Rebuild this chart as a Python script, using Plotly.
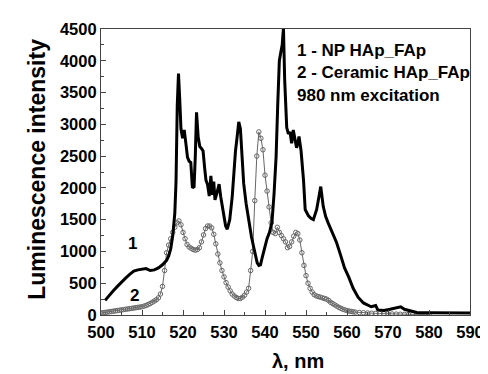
import plotly.graph_objects as go

# Curve 1: NP HAp_FAp (black line)
np_x = [501, 502, 503, 504, 505, 506, 507, 508, 509, 510, 511, 512, 513, 514, 515, 516, 516.5, 517, 517.5,
        518, 518.3, 518.6, 518.9, 519.2, 519.5, 519.9, 520.3, 520.7, 521.1, 521.5, 521.9, 522.3, 522.7,
        523.0, 523.3, 523.7, 524.1, 524.5, 524.9, 525.3, 525.6, 526.0, 526.4, 526.8, 527.2, 527.5, 527.8,
        528.2, 528.8, 529.2, 529.8, 530.4, 530.8, 531.4, 532.0, 532.4, 532.8, 533.2, 533.6, 534.0, 534.4,
        534.8, 535.4, 536.1, 536.7, 537.3, 537.7, 538.1, 538.5, 538.9, 539.3, 539.7, 540.1, 540.5, 541.1,
        541.7, 542.2, 542.7, 543.1, 543.5, 543.9, 544.2, 544.5, 544.8, 545.3, 545.7, 546.1, 546.5, 546.9,
        547.3, 547.7, 548.0, 548.3, 548.8, 549.4, 549.8, 550.6, 551.2, 551.8, 552.6, 553.2, 553.6, 554.2,
        554.8, 555.4, 556.4, 557.4, 558.4, 559.4, 560.4, 561.5, 562.7, 564, 565.9, 567.0, 567.5, 569,
        570.5, 572, 573.1, 574, 575.5, 577, 580, 583, 586, 590]
np_y = [230, 310, 380, 450, 520, 580, 640, 690, 710, 720, 730, 700, 710, 740, 790, 860, 930, 1040, 1250,
        1600, 2100, 3300, 3800, 3400, 2930, 2780, 2910, 2700, 2480, 2420, 2400, 2000, 2020,
        2500, 3190, 2800, 2650, 2620, 2580, 2300, 2120, 2050, 1870, 2190, 1890, 2100, 1810,
        1900, 2060, 1860, 1600, 1400, 1350, 1500, 1860, 2250, 2580, 2800, 3040, 2930, 2500,
        2070, 1750, 1450, 1230, 1050, 920, 820, 780, 790, 900, 1000, 1100, 1200, 1300,
        1460, 1900, 2480, 3300, 4000, 4150, 4250, 4520, 3700, 2950, 2850, 2880, 2700, 2910,
        2750, 2630, 2700, 2810, 2580, 2120, 1660, 1560, 1520, 1500, 1660, 1850, 2020, 1710,
        1550, 1450, 1300, 1150, 950, 740, 600, 420, 280, 190, 130, 150, 80, 70,
        90, 110, 130, 90, 60, 40, 35, 30, 28, 30]

# Curve 2: Ceramic HAp_FAp (grey open circles)
cer_x = [500, 500.5, 501, 501.5, 502, 502.5, 503, 503.5, 504, 504.5, 505, 505.5, 506, 506.5, 507, 507.5,
         508, 508.5, 509, 509.5, 510, 510.5, 511, 511.5, 512, 512.5, 513, 513.5, 514, 514.5, 515, 515.5,
         516, 516.5, 517, 517.5, 518, 518.5, 519, 519.5, 520, 520.5, 521, 521.5, 522, 522.5, 523, 523.5,
         524, 524.5, 525, 525.5, 526, 526.5, 527, 527.5, 528, 528.5, 529, 529.5, 530, 530.5, 531, 531.5,
         532, 532.5, 533, 533.5, 534, 534.5, 535, 535.5, 536, 536.5, 537, 537.5, 538, 538.5, 539, 539.5,
         540, 540.5, 541, 541.5, 542, 542.5, 543, 543.5, 544, 544.5, 545, 545.5, 546, 546.5, 547, 547.5,
         548, 548.5, 549, 549.5, 550, 550.5, 551, 551.5, 552, 552.5, 553, 553.5, 554, 554.5, 555, 555.5,
         556, 556.5, 557, 557.5, 558, 558.5, 559, 559.5, 560, 560.5, 561, 561.5, 562, 563, 564, 565,
         566, 567, 568, 569, 570, 571, 572, 573, 574, 575, 576, 577, 578, 579, 580]
cer_y = [30, 35, 40, 45, 50, 55, 60, 65, 70, 75, 80, 85, 90, 95, 100, 105,
         110, 115, 120, 125, 130, 140, 150, 165, 180, 200, 220, 240, 270, 330, 450, 700,
         980, 1100, 1200, 1300, 1380, 1450, 1480, 1420, 1300, 1200, 1110, 1070, 1050, 1030, 1020, 1030,
         1060, 1150, 1260, 1360, 1400, 1400, 1370, 1270, 1120, 960, 820, 700, 600, 510, 440, 380,
         330, 300, 275, 260, 260, 280, 310, 360, 420, 700, 1000, 1800, 2500, 2880, 2780, 2600,
         2200, 1950, 1700, 1450, 1300, 1280, 1380, 1300, 1250, 1200, 1150, 1060, 1080, 1150, 1240, 1300,
         1280, 1180, 980, 780, 620, 500, 420, 360, 320, 300, 290, 280, 270, 260, 250, 230,
         200, 180, 160, 140, 120, 105, 90, 80, 70, 62, 56, 50, 46, 40, 36, 32,
         28, 25, 22, 20, 18, 16, 14, 12, 10, 9, 8, 7, 6, 5, 5]

x_ticks = [500, 510, 520, 530, 540, 550, 560, 570, 580, 590]
y_ticks = [0, 500, 1000, 1500, 2000, 2500, 3000, 3500, 4000, 4500]

FONT = "Liberation Sans"

fig = go.Figure()
fig.add_trace(go.Scatter(x=cer_x, y=cer_y, mode="lines+markers",
                         line=dict(color="#666666", width=1),
                         marker=dict(symbol="circle-open", size=4.5, color="#666666", line=dict(width=1)),
                         showlegend=False))
fig.add_trace(go.Scatter(x=np_x, y=np_y, mode="lines",
                         line=dict(color="black", width=3),
                         showlegend=False))

axis_common = dict(showline=True, linecolor="#444", linewidth=1.2, mirror=True,
                   ticks="inside", ticklen=5, tickwidth=1, tickcolor="#444",
                   showgrid=False, zeroline=False,
                   tickfont=dict(family=FONT, size=16.5, color="black", weight="bold"))

fig.update_xaxes(range=[500, 590], tickvals=x_ticks, ticktext=[str(v) for v in x_ticks],
                 minor=dict(dtick=5, ticks="inside", ticklen=3, tickcolor="#444"),
                 ticklabelstandoff=2,
                 **axis_common)
fig.update_yaxes(range=[0, 4500], tickvals=y_ticks, ticktext=[str(v) for v in y_ticks],
                 minor=dict(dtick=250, ticks="inside", ticklen=3, tickcolor="#444"),
                 **axis_common)

# The page body adds an 8px offset; margins compensate for it.
fig.update_layout(
    width=488, height=374,
    margin=dict(l=93, r=23, t=13, b=67),
    paper_bgcolor="white", plot_bgcolor="white",
    font=dict(family=FONT, color="black"),
    annotations=[
        dict(text="<b>Luminescence intensity</b>", xref="paper", yref="paper", x=-0.215, y=0.51,
             textangle=-90, showarrow=False, font=dict(size=23, family=FONT)),
        dict(text="<b>λ, nm</b>", xref="paper", yref="paper", x=0.535, y=-0.16, yanchor="middle",
             showarrow=False, font=dict(size=20, family=FONT)),
        dict(text="<b>1 - NP HAp_FAp</b>", xref="paper", yref="paper", x=0.526, y=0.925,
             xanchor="left", yanchor="middle", showarrow=False, font=dict(size=17, family=FONT)),
        dict(text="<b>2 - Ceramic HAp_FAp</b>", xref="paper", yref="paper", x=0.526, y=0.847,
             xanchor="left", yanchor="middle", showarrow=False, font=dict(size=17, family=FONT)),
        dict(text="<b>980 nm excitation</b>", xref="paper", yref="paper", x=0.526, y=0.769,
             xanchor="left", yanchor="middle", showarrow=False, font=dict(size=17, family=FONT)),
        dict(text="<b>1</b>", x=507.7, y=1120, showarrow=False, font=dict(size=17, family=FONT)),
        dict(text="<b>2</b>", x=508.2, y=300, showarrow=False, font=dict(size=17, family=FONT)),
    ],
)

fig.write_html("out.html")
